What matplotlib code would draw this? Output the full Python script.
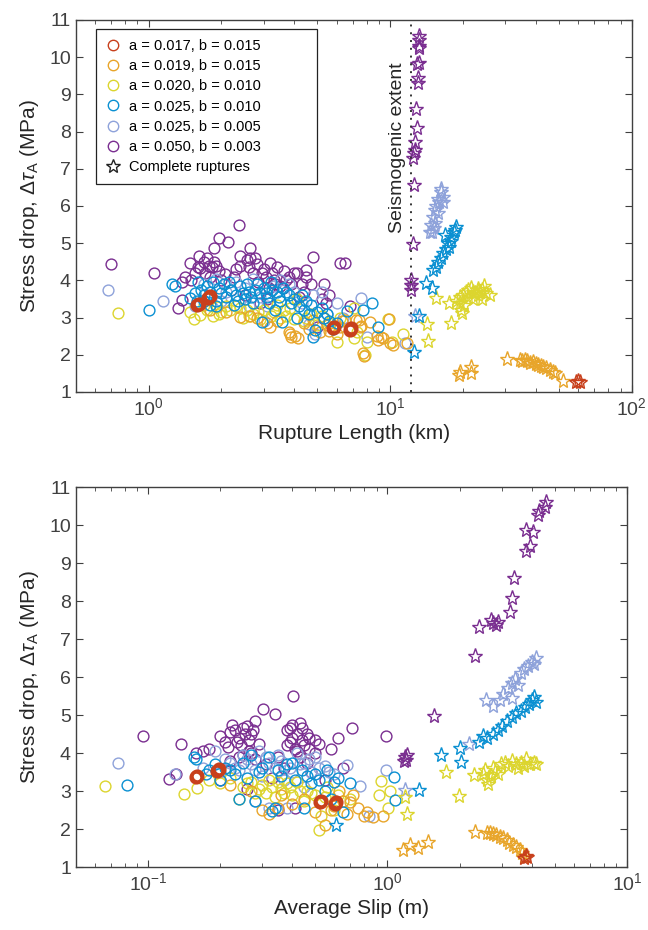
import numpy as np
import matplotlib
matplotlib.use("Agg")
import matplotlib.pyplot as plt
from matplotlib.lines import Line2D

plt.rcParams['font.family'] = ['Liberation Sans', 'DejaVu Sans']
plt.rcParams['mathtext.fontset'] = 'custom'
plt.rcParams['mathtext.rm'] = 'Liberation Sans'
plt.rcParams['mathtext.it'] = 'Liberation Sans:italic'

labels = ["a = 0.017, b = 0.015", "a = 0.019, b = 0.015", "a = 0.020, b = 0.010",
          "a = 0.025, b = 0.010", "a = 0.025, b = 0.005", "a = 0.050, b = 0.003"]
colors = ["#C8401C", "#E8A52A", "#DCD52E", "#0A90D2", "#8EA2DA", "#7A2E90"]

# ---- top panel: rupture length (km) vs stress drop (MPa) ----
red_c_top = [(1.59, 3.33), (1.61, 3.37), (1.77, 3.52), (1.79, 3.57), (5.8, 2.72), (5.87, 2.76), (6.8, 2.67), (6.9, 2.71)]
red_s_top = [(59, 1.27), (60, 1.30), (61, 1.28)]

orange_c_top = [(2.4, 3.02), (2.64, 3.05), (3.1, 2.85), (3.19, 2.76), (3.8, 2.62), (3.86, 2.56), (3.9, 2.49), (4.05, 2.5),
                (4.17, 2.44), (4.4, 2.86), (4.8, 2.94), (5.3, 2.98), (5.47, 2.8), (6.3, 2.9), (6.5, 2.94), (6.9, 2.67),
                (7.25, 2.94), (7.4, 2.94), (7.5, 2.76), (7.6, 2.77), (7.75, 2.04), (7.8, 1.98), (8.25, 2.89), (8.8, 2.5),
                (8.9, 2.39), (9.2, 2.49), (9.3, 2.44), (9.85, 2.95), (10.0, 2.33), (10.3, 2.26), (11.7, 2.33), (1.8, 3.2),
                (2.1, 3.15), (2.8, 3.0), (3.4, 2.9), (4.6, 2.7), (5.1, 2.6), (6.0, 2.55), (6.2, 2.75), (5.6, 2.65)]
orange_s_top = [(19.2, 1.46), (19.4, 1.55), (21.6, 1.68), (21.7, 1.5), (30.4, 1.9), (34.4, 1.86), (35, 1.82), (36, 1.85),
                (37, 1.83), (38, 1.78), (39, 1.8), (40, 1.74), (41, 1.72), (42, 1.7), (43, 1.66), (44, 1.65), (46, 1.6),
                (47, 1.55), (48, 1.5), (51.9, 1.3)]

yellow_c_top = [(0.75, 3.12), (1.49, 3.14), (1.54, 2.95), (1.64, 3.07), (1.75, 3.2), (1.92, 3.29), (2.0, 3.14), (2.18, 3.2),
                (2.3, 3.3), (2.56, 3.2), (2.7, 3.1), (3.0, 3.2), (3.2, 3.05), (3.4, 3.35), (3.62, 3.2), (3.86, 3.25),
                (4.1, 3.5), (4.4, 2.9), (4.7, 3.1), (5.2, 3.05), (6.0, 2.35), (6.2, 3.0), (7.06, 2.44), (7.1, 3.27),
                (7.3, 2.6), (7.9, 1.99), (8.0, 2.35), (9.8, 2.95), (10.2, 2.35), (11.3, 2.56), (2.9, 2.95), (3.5, 3.0),
                (5.6, 2.85), (1.85, 3.05), (2.45, 3.0), (1.7, 3.35), (1.95, 3.1), (2.1, 3.3), (2.4, 3.25), (2.6, 3.05),
                (2.85, 3.15), (3.3, 3.15), (3.7, 3.05), (4.0, 2.95), (4.5, 3.0), (5.0, 2.8)]
yellow_s_top = [(14.2, 2.82), (14.4, 2.38), (15.5, 3.52), (17.6, 3.4), (17.9, 2.86), (19.4, 3.4), (19.8, 3.12), (18.8, 3.45),
                (19.5, 3.55), (20, 3.6), (20.5, 3.7), (21, 3.75), (21.5, 3.8), (22, 3.7), (22.5, 3.65), (23, 3.6),
                (23.5, 3.7), (24, 3.75), (24.5, 3.85), (25.8, 3.6), (25, 3.65), (21, 3.55), (20.2, 3.35), (19.6, 3.2),
                (22, 3.5), (24, 3.5), (23, 3.78)]

blue_c_top = [(1.0, 3.2), (1.25, 3.9), (1.29, 3.85), (1.49, 3.52), (1.55, 3.65), (1.6, 3.95), (1.65, 3.75), (1.7, 3.6),
              (1.75, 3.85), (1.8, 3.7), (1.85, 3.95), (1.9, 3.45), (1.95, 3.8), (2.0, 3.65), (2.05, 3.9), (2.1, 3.55),
              (2.2, 3.75), (2.3, 3.6), (2.4, 3.85), (2.5, 3.5), (2.6, 3.7), (2.7, 3.4), (2.8, 3.9), (2.9, 3.65),
              (2.95, 2.87), (3.0, 3.8), (3.1, 3.55), (3.2, 3.95), (3.33, 3.2), (3.4, 3.7), (3.5, 3.45), (3.56, 2.89),
              (3.6, 3.8), (3.8, 3.6), (4.0, 3.5), (4.2, 3.3), (4.4, 3.2), (4.6, 3.1), (4.9, 2.67), (5.0, 3.15),
              (5.3, 3.0), (5.6, 2.9), (6.0, 2.85), (6.6, 3.19), (7.75, 3.2), (8.4, 3.38), (8.9, 2.76), (1.9, 3.3),
              (2.25, 3.35), (4.1, 3.0), (5.8, 2.7), (4.8, 2.49), (1.7, 3.45), (1.8, 3.35), (2.15, 3.95), (2.35, 3.45),
              (2.45, 3.65), (2.65, 3.55), (2.75, 3.75), (3.05, 3.65), (3.15, 3.4), (3.25, 3.75), (3.45, 3.55), (3.7, 3.7),
              (3.9, 3.4), (4.3, 3.6), (4.5, 3.45), (4.7, 3.35), (5.2, 3.25), (5.5, 3.1), (1.58, 3.45), (2.55, 3.9)]
blue_s_top = [(12.6, 2.07), (13.2, 3.04), (14.1, 3.92), (14.9, 3.8), (15.1, 4.28), (15.8, 4.5), (16.2, 4.6), (16.6, 4.73),
              (17.0, 4.85), (17.4, 5.0), (17.9, 5.17), (17.9, 5.05), (18.3, 5.3), (18.8, 5.44), (16.9, 5.22), (18.5, 5.35),
              (15.5, 4.35), (17.6, 4.9)]

light_c_top = [(0.68, 3.75), (1.15, 3.45), (1.55, 3.3), (1.7, 3.9), (1.9, 4.05), (2.1, 3.7), (2.3, 3.95), (2.5, 3.8),
               (2.7, 4.05), (2.9, 3.55), (3.1, 3.3), (3.3, 3.85), (3.5, 4.0), (3.8, 3.9), (4.0, 3.7), (4.3, 3.4),
               (4.6, 2.84), (4.8, 3.6), (5.2, 3.7), (5.5, 3.1), (6.0, 3.4), (6.4, 3.0), (7.6, 3.52), (8.0, 2.47),
               (11.5, 2.33), (4.9, 2.55), (2.6, 3.3), (3.0, 2.9), (2.0, 3.45)]
light_s_top = [(12.7, 3.04), (14.6, 5.31), (14.8, 5.5), (15.1, 5.7), (15.2, 5.4), (15.3, 5.89), (15.5, 6.0), (15.8, 5.8),
               (16.0, 6.1), (16.3, 6.38), (16.6, 6.25), (16.2, 6.45), (15.4, 5.55), (14.9, 5.3), (15.7, 6.2), (16.6, 6.1)]

purple_c_top = [(0.70, 4.45), (1.05, 4.19), (1.33, 3.25), (1.38, 3.47), (1.38, 3.97), (1.41, 4.08), (1.49, 4.46), (1.55, 4.2),
                (1.62, 4.65), (1.64, 4.32), (1.70, 4.5), (1.78, 4.4), (1.80, 4.1), (1.86, 4.86), (1.87, 4.5), (1.95, 5.13),
                (1.96, 4.25), (2.00, 4.0), (2.07, 4.18), (2.14, 5.02), (2.36, 5.49), (2.40, 4.66), (2.40, 4.4), (2.55, 4.55),
                (2.64, 4.6), (2.64, 4.86), (2.70, 4.2), (2.80, 4.45), (2.85, 3.95), (3.00, 4.3), (3.05, 4.1), (3.19, 4.46),
                (3.30, 4.0), (3.41, 4.35), (3.50, 3.85), (3.62, 4.25), (3.80, 4.1), (4.00, 4.2), (4.10, 4.2), (4.30, 3.9),
                (4.50, 4.28), (4.50, 4.1), (4.80, 4.64), (5.00, 2.75), (5.30, 3.9), (5.40, 3.4), (5.60, 3.6), (6.20, 4.47),
                (6.50, 4.46), (6.85, 3.3), (2.20, 3.75), (2.50, 3.6), (3.10, 3.5), (1.75, 4.6), (2.90, 3.4), (3.60, 3.8),
                (4.20, 3.55), (2.30, 4.3), (1.90, 4.4), (1.5, 4.0), (1.6, 4.35), (1.72, 4.2), (1.83, 4.35), (2.25, 4.1),
                (2.6, 4.35), (2.75, 4.6), (2.95, 4.2), (3.25, 4.2), (3.35, 3.9), (3.7, 4.0), (3.9, 3.9), (4.4, 3.7),
                (4.7, 3.9), (5.2, 3.5), (3.15, 3.8)]
purple_s_top = [(12.2, 3.74), (12.2, 3.88), (12.2, 4.01), (12.4, 4.98), (12.6, 6.56), (12.4, 7.28), (12.6, 7.42), (12.7, 7.5),
                (12.7, 7.73), (12.9, 8.09), (12.8, 8.6), (13.0, 9.3), (13.0, 9.43), (12.9, 9.83), (13.1, 9.85), (13.1, 10.24),
                (13.2, 10.3), (13.1, 10.46), (13.2, 10.57)]

# ---- bottom panel: average slip (m) vs stress drop (MPa) ----
red_c_bot = [(0.158, 3.36), (0.161, 3.40), (0.195, 3.52), (0.198, 3.57), (0.524, 2.70), (0.53, 2.74), (0.605, 2.66), (0.612, 2.70)]
red_s_bot = [(3.73, 1.25), (3.78, 1.3), (3.83, 1.27)]

orange_c_bot = [(0.3, 2.5), (0.32, 2.4), (0.35, 2.55), (0.4, 2.65), (0.45, 2.8), (0.5, 2.45), (0.55, 2.1), (0.58, 2.5),
                (0.63, 3.0), (0.65, 2.75), (0.7, 2.7), (0.72, 2.9), (0.75, 2.55), (0.8, 2.35), (0.82, 2.45), (0.87, 2.32),
                (0.96, 2.34), (0.68, 2.4), (0.36, 2.9), (0.27, 3.0), (0.22, 3.15), (0.6, 2.6)]
orange_s_bot = [(1.16, 1.45), (1.24, 1.58), (1.34, 1.49), (1.48, 1.67), (2.33, 1.93), (2.6, 1.9), (2.67, 1.89), (2.75, 1.86),
                (2.85, 1.85), (2.94, 1.8), (3.05, 1.76), (3.15, 1.7), (3.23, 1.62), (3.35, 1.58), (3.45, 1.52), (3.56, 1.45),
                (3.65, 1.38), (3.73, 1.27)]

yellow_c_bot = [(0.066, 3.13), (0.142, 2.93), (0.16, 3.08), (0.18, 3.3), (0.2, 3.2), (0.22, 3.35), (0.25, 3.1), (0.27, 3.25),
                (0.28, 2.95), (0.3, 3.15), (0.32, 3.3), (0.34, 2.85), (0.36, 3.05), (0.38, 3.2), (0.4, 2.9), (0.43, 3.0),
                (0.45, 2.75), (0.48, 2.95), (0.52, 1.98), (0.53, 2.35), (0.6, 2.5), (0.7, 2.8), (0.94, 3.27), (1.01, 2.55),
                (1.02, 3.0), (0.92, 2.9), (0.24, 2.8), (0.56, 3.1), (0.26, 3.2), (0.29, 3.05), (0.31, 2.95), (0.33, 3.1),
                (0.35, 3.25), (0.37, 2.95), (0.39, 3.1), (0.42, 3.25), (0.46, 3.0), (0.5, 2.9), (0.55, 2.85), (0.62, 2.9)]
yellow_s_bot = [(1.18, 2.83), (1.21, 2.39), (1.76, 3.51), (1.99, 2.87), (2.3, 3.42), (2.5, 3.45), (2.55, 3.55), (2.6, 3.3),
                (2.63, 3.19), (2.7, 3.4), (2.75, 3.6), (2.8, 3.5), (2.9, 3.45), (2.98, 3.7), (3.1, 3.75), (3.2, 3.65),
                (3.3, 3.8), (3.45, 3.7), (3.6, 3.75), (3.7, 3.65), (3.8, 3.85), (3.95, 3.7), (4.1, 3.75), (4.17, 3.7), (3.5, 3.6)]

blue_c_bot = [(0.082, 3.15), (0.155, 3.9), (0.158, 3.85), (0.175, 3.45), (0.19, 3.7), (0.2, 3.3), (0.21, 3.6), (0.23, 3.45),
              (0.25, 3.75), (0.26, 3.35), (0.24, 2.8), (0.28, 2.75), (0.3, 3.6), (0.32, 3.9), (0.33, 2.48), (0.34, 2.55),
              (0.36, 3.4), (0.38, 3.7), (0.41, 3.3), (0.44, 3.55), (0.45, 2.55), (0.48, 3.2), (0.5, 3.45), (0.55, 3.0),
              (0.6, 3.25), (0.65, 2.45), (0.7, 3.2), (1.06, 3.38), (1.07, 2.76), (0.27, 3.95), (0.58, 2.8), (0.18, 3.55),
              (0.22, 3.55), (0.29, 3.5), (0.35, 3.55), (0.4, 3.75), (0.46, 3.4), (0.52, 3.3), (0.56, 3.55), (0.62, 3.35)]
blue_s_bot = [(0.61, 2.1), (1.36, 3.04), (1.68, 3.95), (2.0, 4.12), (2.03, 3.77), (2.42, 4.3), (2.5, 4.45), (2.6, 4.4),
              (2.75, 4.5), (2.9, 4.6), (3.0, 4.7), (3.15, 4.85), (3.3, 4.95), (3.45, 5.05), (3.6, 5.1), (3.75, 5.2),
              (3.9, 5.3), (4.0, 5.4), (4.1, 5.48), (4.15, 5.35)]

light_c_bot = [(0.075, 3.75), (0.13, 3.45), (0.17, 3.6), (0.19, 4.05), (0.21, 3.85), (0.23, 3.6), (0.25, 3.95), (0.27, 3.7),
               (0.29, 4.05), (0.3, 3.4), (0.32, 3.75), (0.35, 3.95), (0.37, 3.3), (0.39, 3.6), (0.42, 4.0), (0.45, 3.75),
               (0.48, 3.5), (0.5, 3.9), (0.55, 3.65), (0.6, 3.45), (0.68, 3.68), (0.77, 3.13), (0.84, 2.34), (0.99, 3.55),
               (0.32, 2.55), (0.38, 2.55), (0.28, 2.75), (0.45, 3.1), (0.2, 3.5), (0.22, 3.75), (0.24, 3.55), (0.26, 3.85),
               (0.28, 3.55), (0.31, 3.9), (0.34, 3.6), (0.36, 3.8), (0.4, 3.5), (0.43, 3.7), (0.47, 3.85), (0.52, 3.6),
               (0.57, 3.5)]
light_s_bot = [(1.18, 3.04), (2.2, 4.25), (2.58, 5.39), (2.75, 5.25), (2.95, 5.4), (3.05, 5.55), (3.2, 5.7), (3.3, 5.85),
               (3.4, 5.95), (3.5, 5.8), (3.6, 6.1), (3.7, 6.2), (3.85, 6.3), (4.0, 6.4), (4.1, 6.35), (4.17, 6.5), (3.3, 5.45)]

purple_c_bot = [(0.095, 4.45), (0.122, 3.31), (0.131, 3.45), (0.137, 4.23), (0.158, 4.0), (0.17, 4.05), (0.18, 4.1), (0.2, 4.45),
                (0.21, 4.3), (0.22, 4.55), (0.23, 4.6), (0.24, 4.4), (0.245, 4.2), (0.25, 3.95), (0.255, 4.5), (0.26, 4.7),
                (0.265, 4.35), (0.27, 4.0), (0.275, 4.6), (0.28, 3.85), (0.28, 4.85), (0.29, 4.25), (0.303, 5.15), (0.31, 3.7),
                (0.339, 5.03), (0.35, 3.9), (0.37, 3.6), (0.38, 4.6), (0.39, 4.3), (0.4, 4.75), (0.404, 5.51), (0.41, 4.1),
                (0.42, 4.5), (0.43, 3.9), (0.44, 4.65), (0.45, 4.2), (0.46, 3.75), (0.47, 4.4), (0.48, 3.5), (0.5, 4.0),
                (0.52, 4.25), (0.55, 3.3), (0.58, 4.1), (0.62, 4.4), (0.65, 3.6), (0.71, 4.65), (0.99, 4.45), (0.2, 3.3),
                (0.26, 3.05), (0.33, 3.35), (0.41, 2.55), (0.22, 3.8), (0.35, 2.5), (0.215, 4.15), (0.225, 4.75),
                (0.235, 4.3), (0.25, 4.65), (0.265, 4.05), (0.27, 4.5), (0.24, 3.9), (0.38, 4.2), (0.4, 4.4), (0.42, 4.05),
                (0.44, 4.35), (0.46, 4.5), (0.43, 4.8), (0.39, 4.65), (0.47, 4.1), (0.5, 4.35)]
purple_s_bot = [(1.17, 3.79), (1.18, 3.9), (1.2, 3.82), (1.21, 3.95), (1.57, 4.97), (2.31, 6.56), (2.41, 7.31), (2.71, 7.5),
                (2.76, 7.41), (2.84, 7.37), (2.89, 7.45), (3.25, 7.72), (3.31, 8.09), (3.36, 8.6), (3.79, 9.32), (3.92, 9.45),
                (3.79, 9.87), (4.04, 9.82), (4.24, 10.26), (4.3, 10.36), (4.53, 10.48), (4.6, 10.61)]

seismo_L = 12.2

top_c = [red_c_top, orange_c_top, yellow_c_top, blue_c_top, light_c_top, purple_c_top]
top_s = [red_s_top, orange_s_top, yellow_s_top, blue_s_top, light_s_top, purple_s_top]
bot_c = [red_c_bot, orange_c_bot, yellow_c_bot, blue_c_bot, light_c_bot, purple_c_bot]
bot_s = [red_s_bot, orange_s_bot, yellow_s_bot, blue_s_bot, light_s_bot, purple_s_bot]

draw_order = [5, 4, 2, 1, 3, 0]
axcol = "#404040"

fig = plt.figure(figsize=(6.48, 9.30), dpi=100)
ax1 = fig.add_axes([0.117, 0.5785, 0.858, 0.4])
ax2 = fig.add_axes([0.117, 0.0677, 0.8506, 0.4086])


def panel(ax, circles, stars):
    for i in draw_order:
        c = np.array(circles[i])
        mew = 2.4 if i == 0 else 1.0
        ax.plot(c[:, 0], c[:, 1], 'o', ms=7.8, mfc='none', mec=colors[i], mew=mew)
    for i in draw_order:
        s = np.array(stars[i])
        ax.plot(s[:, 0], s[:, 1], '*', ms=11, mfc='none', mec=colors[i], mew=1.0)
    ax.set_xscale('log')
    ax.set_ylim(1, 11)
    ax.set_yticks(range(1, 12))
    ax.tick_params(which='both', direction='in', top=True, right=True, colors=axcol, labelsize=14)
    ax.tick_params(which='major', length=5)
    ax.tick_params(which='minor', length=3)
    for sp in ax.spines.values():
        sp.set_color(axcol)
        sp.set_linewidth(1.0)
    ax.set_ylabel(r'Stress drop, $\Delta\tau_{\rm A}$ (MPa)', fontsize=15, color='#262626', labelpad=6)


panel(ax1, top_c, top_s)
ax1.set_xlim(0.5, 100)
ax1.set_xlabel('Rupture Length (km)', fontsize=15, color='#262626', labelpad=4)
ax1.axvline(seismo_L, color='#333333', ls=(0, (1, 3)), lw=1.4)
ax1.text(10.7, 9.87, 'Seismogenic extent', rotation=90, ha='center', va='top', fontsize=14, color='#262626')

handles = [Line2D([], [], ls='none', marker='o', ms=7.5, mfc='none', mec=c, mew=1.0) for c in colors]
handles.append(Line2D([], [], ls='none', marker='*', ms=10, mfc='none', mec='#222222', mew=1.0))
leg = ax1.legend(handles, labels + ['Complete ruptures'], loc='upper left', bbox_to_anchor=(0.036, 0.55, 0.397, 0.426),
                 mode='expand', borderaxespad=0, fontsize=10.5, labelspacing=0.42, handlelength=1.0,
                 handletextpad=0.6, fancybox=False, framealpha=1, borderpad=0.7)
leg.get_frame().set_edgecolor('#222222')
leg.get_frame().set_linewidth(0.9)

panel(ax2, bot_c, bot_s)
ax2.set_xlim(0.05, 10)
ax2.set_xlabel('Average Slip (m)', fontsize=15, color='#262626', labelpad=4)

fig.savefig('out.png', dpi=100)
